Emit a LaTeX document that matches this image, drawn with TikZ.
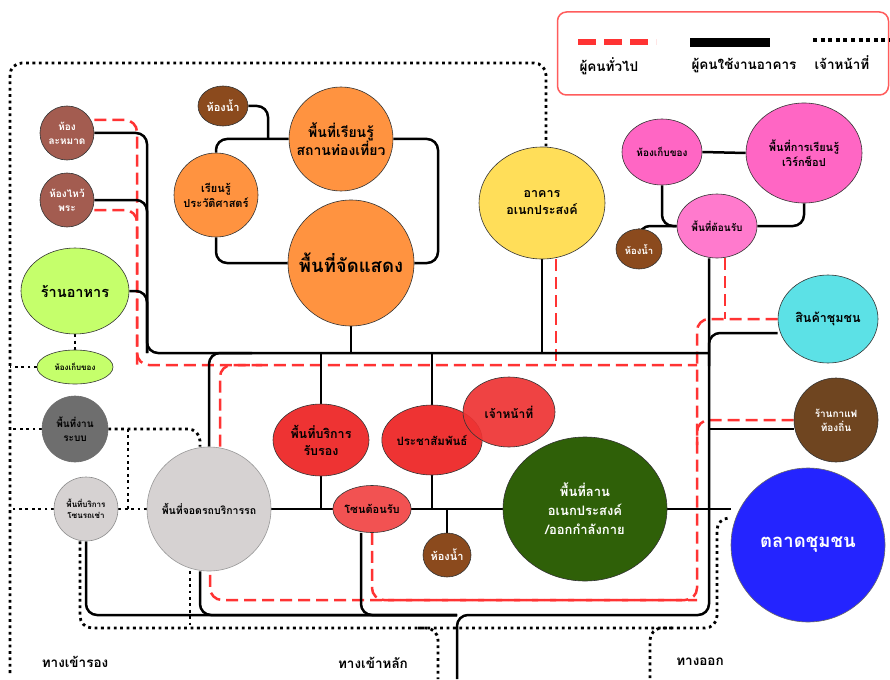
\documentclass[tikz,border=0pt]{standalone}
\usepackage{fontspec}
\newfontfamily\thai[Script=Thai]{Loma}
\usetikzlibrary{backgrounds,shapes.geometric}
\definecolor{cBrownRed}{HTML}{A35C50}
\definecolor{cLGreen}{HTML}{C5FF6B}
\definecolor{cDGray}{HTML}{6E6E6E}
\definecolor{cLGray}{HTML}{D6D2D2}
\definecolor{cOrange}{HTML}{FF9340}
\definecolor{cBrown}{HTML}{8B4A1D}
\definecolor{cYellow}{HTML}{FFDE59}
\definecolor{cPink}{HTML}{FF66C4}
\definecolor{cPinkB}{HTML}{FF7ACD}
\definecolor{cCyan}{HTML}{5CE1E6}
\definecolor{cCafe}{HTML}{6F4520}
\definecolor{cBlue}{HTML}{2424FF}
\definecolor{cDGreen}{HTML}{2F6008}
\definecolor{cRed}{HTML}{EE3333}
\definecolor{cRedB}{HTML}{F25252}
\definecolor{cDash}{HTML}{FF3333}
\definecolor{cLegend}{HTML}{FF5C5C}
\tikzset{
  fs/.style 2 args={font=\thai\bfseries\fontsize{#1}{#2}\selectfont},
  place/.style={draw=black!80, line width=0.6pt, align=center, inner sep=0pt},
  circ/.style={place, circle, minimum size=#1},
  ov/.style 2 args={place, ellipse, minimum width=#1, minimum height=#2},
  conn/.style={line width=2.5pt, black, rounded corners=11pt},
  pub/.style={line width=2.5pt, cDash, dash pattern=on 12pt off 6pt, rounded corners=12pt},
  staff/.style={line width=2.8pt, black, dash pattern=on 2.8pt off 3.6pt, rounded corners=12pt},
  lbl/.style={fs={13.5}{16}},
}
\begin{document}
\begin{tikzpicture}[x=1pt,y=-1pt]
\useasboundingbox (0,0) rectangle (890,679);
% ---------- nodes ----------
\node[circ=54pt, fill=cBrownRed, text=white, fs={10}{14}] (lamad) at (67,133) {ห้อง\\ละหมาด};
\node[circ=54pt, fill=cBrownRed, text=white, fs={10}{14}] (wai) at (67,200) {ห้องไหว้\\พระ};
\node[ov={108pt}{86pt}, fill=cLGreen, fs={14.5}{17}] (food) at (75,291) {ร้านอาหาร};
\node[ov={76pt}{34pt}, fill=cLGreen, fs={8}{10}] (store1) at (75,367) {ห้องเก็บของ};
\node[circ=66pt, fill=cDGray, draw=cDGray, fs={10}{14}] (system) at (75,429) {พื้นที่งาน\\ระบบ};
\node[circ=64pt, fill=cLGray, draw=black!45, fs={8}{11}] (rental) at (86,509) {พื้นที่บริการ\\โซนรถเช่า};
\node[circ=124pt, fill=cLGray, draw=black!40, fs={10.5}{12}] (parking) at (209,509) {พื้นที่จอดรถบริการรถ};
\node[ov={50pt}{40pt}, fill=cBrown, text=white, fs={11}{13}] (toilet1) at (223,106) {ห้องน้ำ};
\node[circ=104pt, fill=cOrange, fs={14}{18}] (learn) at (341,139) {พื้นที่เรียนรู้\\สถานท่องเที่ยว};
\node[circ=84pt, fill=cOrange, fs={11}{15}] (hist) at (216,195) {เรียนรู้\\ประวัติศาสตร์};
\node[circ=126pt, fill=cOrange, fs={18.5}{21}] (show) at (351,263) {พื้นที่จัดแสดง};
\node[ov={126pt}{112pt}, fill=cYellow, fs={12.5}{17}] (hall) at (542,203) {อาคาร\\อเนกประสงค์};
\node[ov={80pt}{66pt}, fill=cPink, fs={10}{12}] (store2) at (662,152) {ห้องเก็บของ};
\node[ov={116pt}{100pt}, fill=cPink, fs={11}{15}] (workshop) at (804,153) {พื้นที่การเรียนรู้\\เวิร์กช็อป};
\node[ov={80pt}{64pt}, fill=cPinkB, fs={10}{12}] (reception) at (717,226) {พื้นที่ต้อนรับ};
\node[ov={46pt}{40pt}, fill=cBrown, text=white, fs={9.5}{11}] (toilet2) at (639,249) {ห้องน้ำ};
\node[ov={100pt}{88pt}, fill=cCyan, fs={12.5}{15}] (goods) at (828,319) {สินค้าชุมชน};
\node[circ=84pt, fill=cCafe, text=white, fs={10}{14}] (cafe) at (836,420) {ร้านกาแฟ\\ท้องถิ่น};
\node[circ=154pt, fill=cBlue, draw=black!60, text=white, fs={18.5}{21}] (market) at (808,545) {ตลาดชุมชน};
\node[ov={164pt}{144pt}, fill=cDGreen, text=white, fs={13}{19}] (plaza) at (585,509) {พื้นที่ลาน\\อเนกประสงค์\\/ออกกำลังกาย};
\node[ov={96pt}{72pt}, fill=cRed, fs={12.5}{17}] (service) at (321,440) {พื้นที่บริการ\\รับรอง};
\node[ov={92pt}{70pt}, fill=cRed, fs={11.5}{13}] (pr) at (432,440) {ประชาสัมพันธ์};
\node[ov={92pt}{70pt}, fill=cRed, fill opacity=0.92, text opacity=1, fs={12}{14}] (staffn) at (509,412) {เจ้าหน้าที่};
\node[ov={70pt}{47pt}, fill=cRedB, fs={11}{13}] (welcome) at (372,509) {โซนต้อนรับ};
\node[ov={48pt}{44pt}, fill=cBrown, text=white, fs={11}{13}] (toilet3) at (447,555) {ห้องน้ำ};
% entrance labels
\node[lbl] (entSide) at (75,662) {ทางเข้ารอง};
\node[lbl] (entMainL) at (373,663) {ทางเข้าหลัก};
\node[lbl] (exitL) at (700,662) {ทางออก};
% ---------- legend ----------
\node[draw=cLegend, line width=1.5pt, rounded corners=9pt, minimum width=331pt, minimum height=83pt] (legend) at (723,53.5) {};
\coordinate (lg1a) at (578,42); \coordinate (lg1b) at (656,42);
\coordinate (lg2a) at (690,42.5); \coordinate (lg2b) at (770,42.5);
\coordinate (lg3a) at (813,40); \coordinate (lg3b) at (892,40);
\draw[cDash, line width=6pt, dash pattern=on 18pt off 8pt] (lg1a) -- (lg1b);
\draw[black, line width=8.5pt] (lg2a) -- (lg2b);
\draw[black, line width=4pt, dash pattern=on 4pt off 3.6pt] (lg3a) -- (lg3b);
\node[lbl, anchor=west] (lgt1) at (576,66) {ผู้คนทั่วไป};
\node[lbl, anchor=west] (lgt2) at (688,66) {ผู้คนใช้งานอาคาร};
\node[lbl, anchor=west] (lgt3) at (811,63) {เจ้าหน้าที่};
% ---------- connectors ----------
\begin{pgfonlayer}{background}
\fill[white] (0,0) rectangle (890,679);
\coordinate (jL) at (147,353);
\coordinate (jR) at (709,353);
\coordinate (gJ) at (709,366);
\coordinate (jBot) at (457,615);
\coordinate (exitMain) at (457,679);
\coordinate (oR) at (438,200);
\coordinate (t1j) at (268,139);
\coordinate (pJ) at (252,353);
\coordinate (rL) at (137,365);
\coordinate (rR) at (697,365);
\coordinate (rBR) at (697,600);
\coordinate (rC) at (697,445);
\coordinate (rIn) at (262,365);
\coordinate (fB) at (10,673);
\coordinate (fTL) at (10,63);
\coordinate (dR) at (717,628);
\coordinate (sv1) at (128,429);
\coordinate (sv2) at (128,509);
\coordinate (entA) at (418,628);
\coordinate (entD) at (438,679);
\coordinate (exA) at (672,628);
\coordinate (exD) at (650,679);
% staff (dotted)
\draw[staff] (fB) -- (fTL) -| ([xshift=4pt]hall.north);
\draw[staff] (system.west) -- (system.west -| fB);
\draw[staff] (system.east) -| ([xshift=-9pt]parking.north);
\draw[staff] (sv1) -- (sv2);
\draw[staff] (rental.west) -- (rental.west -| fB);
\draw[staff] (rental.east) -- (parking.west);
\draw[staff] ([xshift=-6pt]rental.south) |- (dR) |- ([yshift=27pt]market.west);
\path ([xshift=-19pt]parking.south) coordinate (pd);
\draw[staff] (pd) -- (pd |- dR);
\draw[staff] (entA) -| (entD);
\draw[staff] (exA) -| (exD);
\draw[staff] (food.south) -- (store1.north);
\draw[staff] (store1.west) -- (store1.west -| fB);
% public (red dashed)
\draw[pub] ([yshift=13pt]lamad.east) -| (rL) -- (rR);
\draw[pub] ([yshift=-10pt]wai.east) -| (rL);
\path ([xshift=14pt]hall.south) coordinate (hr);
\draw[pub] (hr) -- (hr |- rR);
\path ([xshift=8pt]reception.south) coordinate (rv);
\draw[pub] (rv) -- (rv |- goods.west);
\draw[pub] (goods.west) -| (rBR) -| ([xshift=1pt]parking.south);
\draw[pub] (cafe.west) -| (rC);
\draw[pub] ([xshift=11pt]parking.north) |- (rIn);
\draw[pub] (welcome.south) |- (rBR);
% building users (black)
\draw[conn] (lamad.east) -| (jL) -- (jR);
\draw[conn] (wai.east) -| (jL);
\draw[conn] (food.east) -| (jL);
\draw[conn] (show.south) -- (show.south |- jR);
\draw[conn] (hall.south) -- (hall.south |- jR);
\draw[conn] (jR |- reception.south) |- (jBot) -- (exitMain);
\draw[conn] (rental.south) |- (jBot);
\draw[conn] ([xshift=-9pt]parking.south) |- (jBot);
\draw[conn] ([xshift=-11pt]welcome.south) |- (jBot);
\draw[conn] (parking.east) -- (plaza.west);
\draw[conn] (service.north) -- (service.north |- jR);
\draw[conn] (service.south) -- (service.south |- parking.east);
\draw[conn] (pr.north) -- (pr.north |- jR);
\draw[conn] (pr.south) -- (pr.south |- parking.east);
\draw[conn] (toilet3.north) -- (toilet3.north |- parking.east);
\draw[conn] (parking.north) |- (pJ);
\draw[conn] (plaza.east) -- (market.west |- plaza.east);
\draw[conn] (gJ) |- ([yshift=-14pt]goods.west);
\path ([yshift=-9pt]cafe.west) coordinate (cafeA);
\draw[conn] (cafeA) -- (jR |- cafeA);
\draw[conn] (hist.north) |- (learn.west);
\draw[conn] (hist.south) |- (show.west);
\draw[conn] (learn.east) -| (oR) |- (show.east);
\draw[conn] (toilet1.east) -| (t1j);
\draw[conn] (store2.east) -- (workshop.west);
\draw[conn] (store2.south) |- (reception.west);
\draw[conn] (workshop.south) |- (reception.east);
\draw[conn] (toilet2.north) |- (reception.west);
\end{pgfonlayer}
\end{tikzpicture}
\end{document}
